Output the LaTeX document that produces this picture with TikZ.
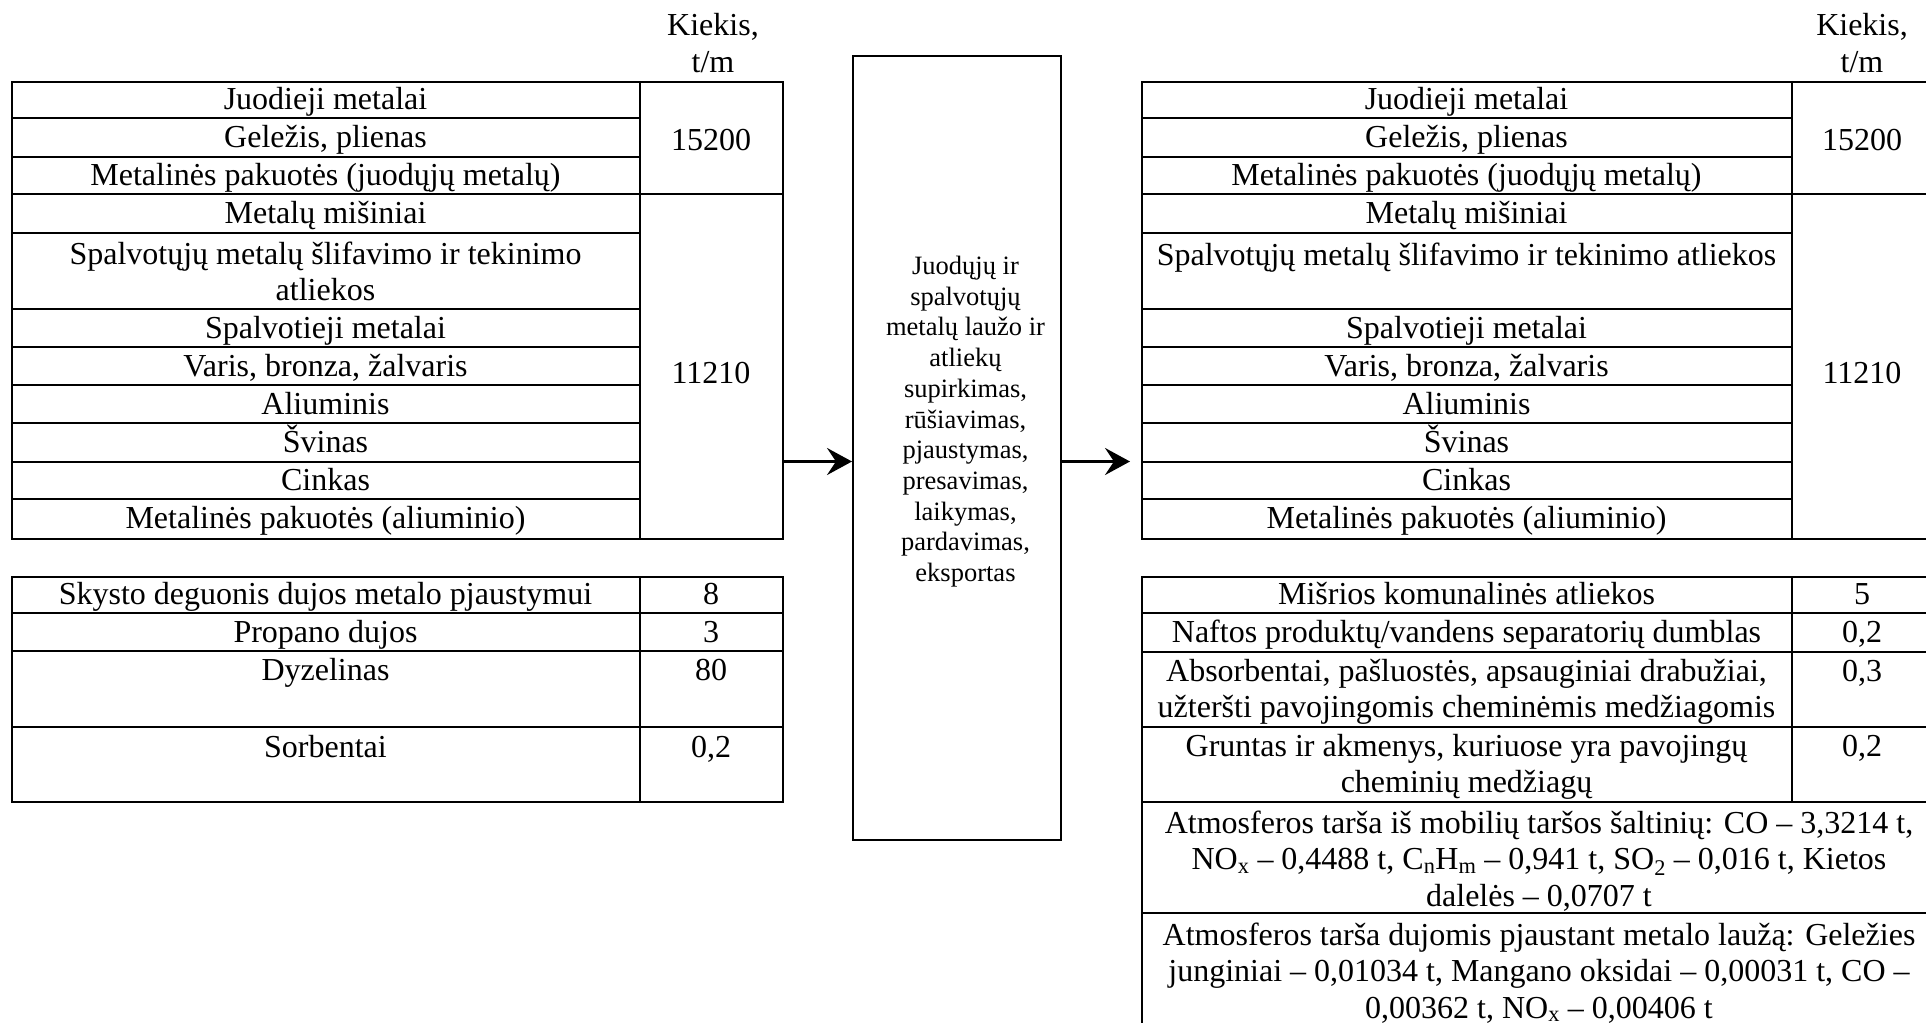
\documentclass[tikz,border=0pt]{standalone}
\usepackage{fontspec}
\setmainfont{Liberation Serif}
\usetikzlibrary{arrows.meta}
\begin{document}
\begin{tikzpicture}[x=1pt,y=-1pt,
  frame/.style={draw, line width=2pt, inner sep=0pt, anchor=north west},
  rule/.style={line width=2pt},
  lbl/.style={anchor=base, inner sep=0pt, align=center, font=\fontsize{32}{36.5}\selectfont},
  proctext/.style={anchor=base, inner sep=0pt, align=center, font=\fontsize{26.5}{30.7}\selectfont},
  flow/.style={line width=3.3pt, -{Stealth[length=25pt,width=27pt,inset=9pt]}}]
\useasboundingbox (0,0) rectangle (1926,1022);

% ---------- left upper table
\node[frame, minimum width=771pt, minimum height=457pt] (LT) at (11,81) {};
\foreach \yy in {118,157,233,309,347,385,423,462,499} \draw[rule] (11,\yy) -- (640,\yy);
\draw[rule] (11,194) -- (782,194);
\draw[rule] (640,81) -- (640,538);

% ---------- right upper table
\node[frame, minimum width=791pt, minimum height=457pt] (RT) at (1141,81) {};
\foreach \yy in {118,157,233,309,347,385,423,462,499} \draw[rule] (1141,\yy) -- (1792,\yy);
\draw[rule] (1141,194) -- (1932,194);
\draw[rule] (1792,81) -- (1792,538);

% ---------- left lower table
\node[frame, minimum width=771pt, minimum height=225pt] (LB) at (11,576) {};
\foreach \yy in {613,651,727} \draw[rule] (11,\yy) -- (782,\yy);
\draw[rule] (640,576) -- (640,801);

% ---------- right lower table
\node[frame, minimum width=791pt, minimum height=452pt] (RB) at (1141,576) {};
\foreach \yy in {613,652,727,802,913} \draw[rule] (1141,\yy) -- (1932,\yy);
\draw[rule] (1792,576) -- (1792,802);

% ---------- process box
\node[frame, minimum width=208pt, minimum height=784pt] (proc) at (852,55) {};
\node[proctext] (proctxt) at (965.5,581.5) {Juodųjų ir\\spalvotųjų\\metalų laužo ir\\atliekų\\supirkimas,\\rūšiavimas,\\pjaustymas,\\presavimas,\\laikymas,\\pardavimas,\\eksportas};

% ---------- arrows
\coordinate (flowy) at (0,461.5);
\coordinate (rin) at (1130,461.5);
\draw[flow] (LT.east |- flowy) -- (proc.west |- flowy);
\draw[flow] (proc.east |- flowy) -- (rin);

% ---------- headers
\node[lbl] (hL) at (713,72.5) {Kiekis,\\t/m};
\node[lbl] (hR) at (1862,72.5) {Kiekis,\\t/m};

% ---------- left upper texts
\node[lbl] (l1) at (325.5,109.5) {Juodieji metalai};
\node[lbl] (l2) at (325.5,147.5) {Geležis, plienas};
\node[lbl] (l3) at (325.5,185.5) {Metalinės pakuotės (juodųjų metalų)};
\node[lbl] (l4) at (325.5,223.5) {Metalų mišiniai};
\node[lbl] (l5) at (325.5,300.5) {Spalvotųjų metalų šlifavimo ir tekinimo\\atliekos};
\node[lbl] (l6) at (325.5,338) {Spalvotieji metalai};
\node[lbl] (l7) at (325.5,376) {Varis, bronza, žalvaris};
\node[lbl] (l8) at (325.5,414) {Aliuminis};
\node[lbl] (l9) at (325.5,452.5) {Švinas};
\node[lbl] (l10) at (325.5,490.5) {Cinkas};
\node[lbl] (l11) at (325.5,528.5) {Metalinės pakuotės (aliuminio)};
\node[lbl] (lv1) at (711,150) {15200};
\node[lbl] (lv2) at (711,383) {11210};

% ---------- right upper texts
\node[lbl] (r1) at (1466.5,109.5) {Juodieji metalai};
\node[lbl] (r2) at (1466.5,147.5) {Geležis, plienas};
\node[lbl] (r3) at (1466.5,185.5) {Metalinės pakuotės (juodųjų metalų)};
\node[lbl] (r4) at (1466.5,223.5) {Metalų mišiniai};
\node[lbl] (r5) at (1466.5,265) {Spalvotųjų metalų šlifavimo ir tekinimo atliekos};
\node[lbl] (r6) at (1466.5,338) {Spalvotieji metalai};
\node[lbl] (r7) at (1466.5,376) {Varis, bronza, žalvaris};
\node[lbl] (r8) at (1466.5,414) {Aliuminis};
\node[lbl] (r9) at (1466.5,452.5) {Švinas};
\node[lbl] (r10) at (1466.5,490.5) {Cinkas};
\node[lbl] (r11) at (1466.5,528.5) {Metalinės pakuotės (aliuminio)};
\node[lbl] (rv1) at (1862,150) {15200};
\node[lbl] (rv2) at (1862,383) {11210};

% ---------- left lower texts
\node[lbl] (lb1) at (325.5,604.5) {Skysto deguonis dujos metalo pjaustymui};
\node[lbl] (lb2) at (325.5,642) {Propano dujos};
\node[lbl] (lb3) at (325.5,680) {Dyzelinas};
\node[lbl] (lb4) at (325.5,757) {Sorbentai};
\node[lbl] (lbv1) at (711,604.5) {8};
\node[lbl] (lbv2) at (711,642) {3};
\node[lbl] (lbv3) at (711,680) {80};
\node[lbl] (lbv4) at (711,757) {0,2};

% ---------- right lower texts
\node[lbl] (rb1) at (1466.5,604.5) {Mišrios komunalinės atliekos};
\node[lbl] (rb2) at (1466.5,642.5) {Naftos produktų/vandens separatorių dumblas};
\node[lbl] (rb3) at (1466.5,717.5) {Absorbentai, pašluostės, apsauginiai drabužiai,\\užteršti pavojingomis cheminėmis medžiagomis};
\node[lbl] (rb4) at (1466.5,792.5) {Gruntas ir akmenys, kuriuose yra pavojingų\\cheminių medžiagų};
\node[lbl] (rbv1) at (1862,604.5) {5};
\node[lbl] (rbv2) at (1862,642.5) {0,2};
\node[lbl] (rbv3) at (1862,681) {0,3};
\node[lbl] (rbv4) at (1862,756) {0,2};
\node[lbl] (rb5) at (1539,906) {Atmosferos tarša iš mobilių taršos šaltinių: CO – 3,3214 t,\\NO\textsubscript{x} – 0,4488 t, C\textsubscript{n}H\textsubscript{m} – 0,941 t, SO\textsubscript{2} – 0,016 t, Kietos\\dalelės – 0,0707 t};
\node[lbl] (rb6) at (1539,1018) {Atmosferos tarša dujomis pjaustant metalo laužą: Geležies\\junginiai – 0,01034 t, Mangano oksidai – 0,00031 t, CO –\\0,00362 t, NO\textsubscript{x} – 0,00406 t};
\end{tikzpicture}
\end{document}
